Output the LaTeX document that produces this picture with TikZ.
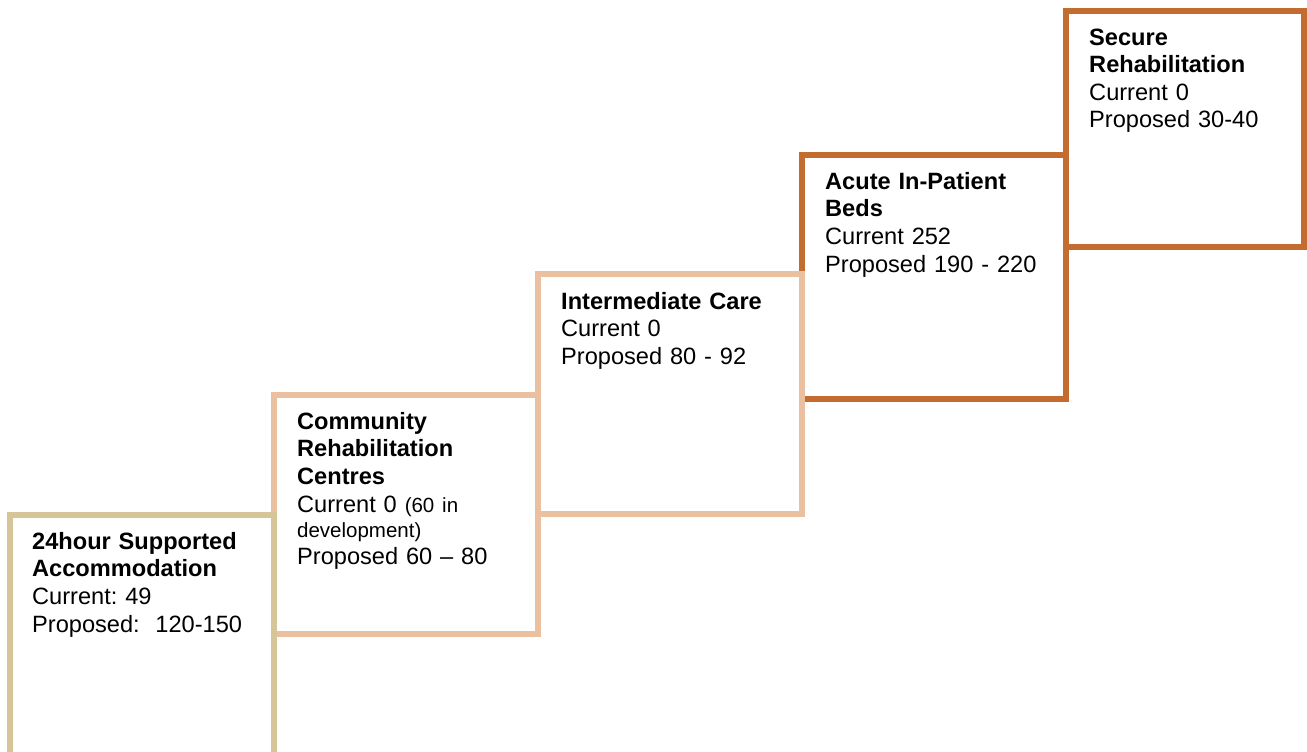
\documentclass[tikz,border=0pt]{standalone}
\usepackage{fontspec}
\setmainfont{Liberation Sans}
\frenchspacing
\definecolor{tanc}{HTML}{D7C59A}
\definecolor{peachc}{HTML}{EBC0A0}
\definecolor{orangec}{HTML}{C46C30}
\begin{document}
\begin{tikzpicture}[x=1pt,y=-1pt,
  boxline/.style={line width=5.5pt,draw=#1,fill=white},
  boxtext/.style={anchor=north west,inner sep=0pt,text width=250pt,align=left,
    font=\frenchspacing\fontsize{23.6}{27.6}\selectfont}]
\useasboundingbox (0,0) rectangle (1307,752);
\clip (0,0) rectangle (1307,752);
% boxes, drawn from last to first
\draw[boxline=orangec] (1066,11) rectangle (1304,247);
\draw[boxline=orangec] (802,155) rectangle (1066,399);
\draw[boxline=peachc] (538,274) rectangle (802,514);
\draw[boxline=peachc] (274,395) rectangle (538,634);
\draw[boxline=tanc] (10,515) rectangle (274,770);
% texts
\node[boxtext] (t1) at (32,529) {\rule{0pt}{20pt}\textbf{24hour Supported}\\\textbf{Accommodation}\\Current: 49\\Proposed:\ \ 120-150};
\node[boxtext] (t2) at (297,409) {\rule{0pt}{20pt}\textbf{Community}\\\textbf{Rehabilitation}\\\textbf{Centres}\\Current 0 {\fontsize{20.5}{24}\selectfont(60 in}\\[-2.5pt]{\fontsize{20.5}{24}\selectfont development)}\\Proposed 60 – 80};
\node[boxtext] (t3) at (561,289) {\rule{0pt}{20pt}\textbf{Intermediate Care}\\Current 0\\Proposed 80 - 92};
\node[boxtext] (t4) at (825,169) {\rule{0pt}{20pt}\textbf{Acute In-Patient}\\\textbf{Beds}\\Current 252\\Proposed 190 - 220};
\node[boxtext] (t5) at (1089,25) {\rule{0pt}{20pt}\textbf{Secure}\\\textbf{Rehabilitation}\\Current 0\\Proposed 30-40};
\end{tikzpicture}
\end{document}
